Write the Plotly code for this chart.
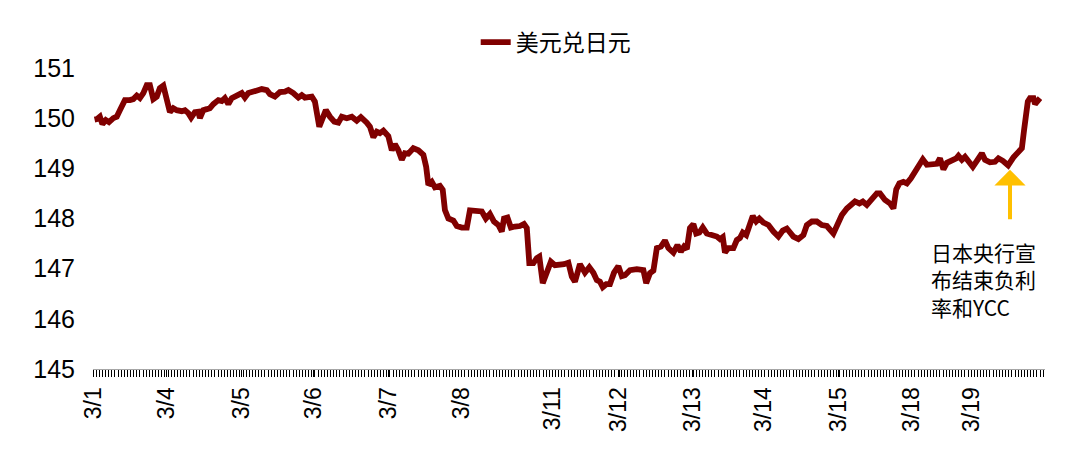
import plotly.graph_objects as go

# Hour index from the start of 3/1 (trading hours)
hours = [0.5, 1.2, 2.2, 3.0, 4.1, 5.1, 6.5, 7.6, 8.6, 10.2, 11.8, 12.9, 14.0, 15.0, 16.1, 17.2, 18.2,
         19.3, 20.4, 21.4, 22.5, 23.6, 24.6, 25.7, 26.8, 28.4, 29.4, 30.5, 31.4, 32.6, 33.7, 34.2,
         35.3, 36.4, 37.4, 38.5, 40.1, 41.2, 42.2, 43.3, 44.4, 46.0, 47.6, 48.6, 49.7, 50.8, 52.4,
         54.0, 55.6, 56.6, 58.2, 59.8, 61.4, 62.5, 64.1, 65.7, 66.8, 67.8, 70.0, 71.0, 72.4, 73.4,
         74.5, 75.8, 77.2, 78.5, 79.6, 81.2, 82.8, 84.4, 85.7, 87.6, 88.6, 89.7, 90.8, 91.8, 92.9,
         94.5, 95.6, 96.6, 97.7, 98.8, 99.8, 100.9, 102.5, 104.1, 105.7, 106.6, 107.3, 108.4, 109.4,
         111.0, 111.9, 112.6, 113.7, 115.3, 116.4, 118.0, 119.6, 120.6, 122.2, 124.4, 125.7, 127.0,
         128.3, 129.7, 130.8, 131.5, 132.6, 133.7, 135.0, 136.6, 137.9, 138.8, 139.6, 140.9, 142.0,
         142.8, 143.9, 145.2, 146.5, 147.8, 149.2, 150.7, 152.1, 153.2, 154.2, 155.8, 157.4, 158.8,
         160.1, 161.2, 162.2, 163.1, 164.2, 165.4, 166.7, 168.1, 169.2, 170.2, 171.8, 174.0, 176.1,
         177.0, 178.2, 179.3, 180.4, 181.7, 183.0, 184.1, 185.7, 187.0, 188.1, 189.1, 190.0, 191.0,
         192.1, 193.0, 194.0, 195.1, 196.4, 198.0, 199.6, 200.6, 201.5, 202.2, 203.3, 204.9, 206.0,
         207.0, 207.9, 209.0, 210.0, 211.1, 212.2, 213.2, 214.5, 216.1, 217.7, 219.3, 220.7, 222.0,
         224.1, 225.7, 227.3, 228.4, 230.0, 231.6, 233.2, 234.8, 236.9, 238.5, 239.6, 241.2, 242.8,
         243.8, 245.2, 246.3, 247.6, 249.2, 250.8, 251.8, 253.4, 255.0, 256.1, 257.0, 258.0, 259.3,
         260.4, 261.7, 263.0, 264.4, 265.5, 266.8, 268.4, 270.0, 271.0, 272.1, 273.2, 274.8, 276.2,
         276.9, 278.0, 279.0, 280.4, 281.5, 282.8, 284.4, 285.4, 287.0, 288.6, 289.7, 291.1, 292.8,
         294.5, 295.8, 297.2, 297.9, 298.6, 299.1, 299.8, 300.9, 301.4, 302.2, 303.0]

usdjpy = [149.97, 149.98, 150.03, 149.88, 149.96, 149.92, 150.00, 150.03, 150.16, 150.36, 150.36,
          150.38, 150.45, 150.40, 150.50, 150.66, 150.66, 150.38, 150.43, 150.60, 150.65, 150.36,
          150.12, 150.20, 150.16, 150.14, 150.16, 150.10, 150.01, 150.12, 150.13, 150.00, 150.16,
          150.18, 150.20, 150.28, 150.36, 150.34, 150.40, 150.28, 150.40, 150.45, 150.50, 150.41,
          150.50, 150.52, 150.56, 150.58, 150.56, 150.48, 150.43, 150.52, 150.53, 150.56, 150.50,
          150.41, 150.46, 150.41, 150.43, 150.33, 149.83, 150.00, 150.16, 150.03, 149.93, 149.91,
          150.03, 150.00, 150.03, 149.95, 150.02, 149.91, 149.83, 149.62, 149.73, 149.70, 149.75,
          149.64, 149.36, 149.48, 149.36, 149.17, 149.30, 149.29, 149.40, 149.36, 149.27, 149.03,
          148.67, 148.73, 148.62, 148.65, 148.57, 148.17, 148.00, 147.96, 147.85, 147.82, 147.82,
          148.16, 148.16, 148.14, 148.00, 148.09, 147.94, 147.87, 147.74, 148.00, 148.02, 147.82,
          147.84, 147.85, 147.89, 147.81, 147.11, 147.11, 147.21, 147.24, 146.71, 146.97, 147.14,
          147.07, 147.07, 147.09, 147.12, 146.84, 146.74, 147.09, 146.92, 147.03, 146.92, 146.77,
          146.74, 146.63, 146.69, 146.69, 146.92, 147.05, 146.85, 146.87, 146.97, 146.99, 146.97,
          146.71, 146.91, 146.96, 147.41, 147.44, 147.56, 147.41, 147.32, 147.47, 147.34, 147.44,
          147.39, 147.81, 147.89, 147.70, 147.72, 147.82, 147.70, 147.67, 147.64, 147.59, 147.63,
          147.32, 147.41, 147.41, 147.57, 147.61, 147.72, 147.67, 147.87, 148.05, 147.94, 148.00,
          147.92, 147.87, 147.74, 147.64, 147.76, 147.80, 147.64, 147.59, 147.67, 147.87, 147.94,
          147.94, 147.87, 147.85, 147.70, 147.94, 148.07, 148.20, 148.27, 148.34, 148.30, 148.34,
          148.27, 148.37, 148.50, 148.50, 148.37, 148.30, 148.20, 148.58, 148.70, 148.73, 148.70,
          148.80, 148.93, 149.07, 149.18, 149.07, 149.07, 149.09, 149.20, 148.98, 149.11, 149.15,
          149.20, 149.25, 149.17, 149.23, 149.11, 149.03, 149.15, 149.30, 149.17, 149.12, 149.13,
          149.20, 149.15, 149.06, 149.22, 149.30, 149.40, 149.76, 150.03, 150.33, 150.40, 150.40,
          150.28, 150.35, 150.40]

tick_labels = ["3/1", "3/4", "3/5", "3/6", "3/7", "3/8", "3/11", "3/12", "3/13", "3/14", "3/15", "3/18", "3/19"]
tick_hours = [0.2, 23.4, 47.4, 70.7, 94.4, 117.8, 146.9, 168.3, 191.7, 214.7, 238.4, 261.8, 281.0]
y_ticks = [145, 146, 147, 148, 149, 150, 151]

event_hour = 293.4
event_level = 148.97
note_hour = 267.5
note_level = 147.68

fig = go.Figure()
fig.add_trace(go.Scatter(
    x=hours, y=usdjpy, mode="lines", name="美元兑日元",
    line=dict(color="#800000", width=5.8),
))

fig.add_annotation(
    x=event_hour, y=event_level, xref="x", yref="y",
    ax=0, ay=51, axref="pixel", ayref="pixel",
    showarrow=True, arrowhead=1, arrowsize=1.3, arrowwidth=4, arrowcolor="#FFC000", text="",
)
fig.add_annotation(
    x=note_hour, y=note_level, xref="x", yref="y",
    xanchor="left", yanchor="top", align="left", showarrow=False,
    text="日本央行宣<br>布结束负利<br>率和YCC",
    font=dict(family="Noto Sans CJK SC", size=21, color="#000000"),
)

# the page body adds an 8px offset, so margins are compensated
fig.update_layout(
    width=1080, height=455,
    margin=dict(l=85, r=43, t=60, b=94, autoexpand=False),
    paper_bgcolor="white", plot_bgcolor="white",
    font=dict(family="Arial, Liberation Sans, sans-serif", color="#000000"),
    showlegend=True,
    legend=dict(orientation="h", x=0.402, xanchor="left", y=1.086, yanchor="middle",
                font=dict(family="Noto Sans CJK SC", size=23, color="#000000"),
                bgcolor="rgba(0,0,0,0)"),
)
fig.update_xaxes(
    range=[0, 304.6], tickmode="array", tickvals=tick_hours, ticktext=tick_labels,
    tickangle=-90, tickfont=dict(size=23, family="Arial, Liberation Sans"),
    showgrid=False, zeroline=False, showline=True, linecolor="#A6A6A6", linewidth=1,
    ticks="outside", ticklen=7, tickwidth=1, tickcolor="#000000",
    minor=dict(ticks="outside", dtick=1, tick0=0, ticklen=7, tickwidth=1, tickcolor="#000000"),
    ticklabelstandoff=1, automargin=False,
)
fig.update_yaxes(
    range=[145, 151], tickmode="array", tickvals=y_ticks,
    tickfont=dict(size=25, family="Arial, Liberation Sans"),
    showgrid=False, zeroline=False, showline=False, ticks="",
    ticklabelstandoff=17, automargin=False,
)

fig.write_html("out.html")
